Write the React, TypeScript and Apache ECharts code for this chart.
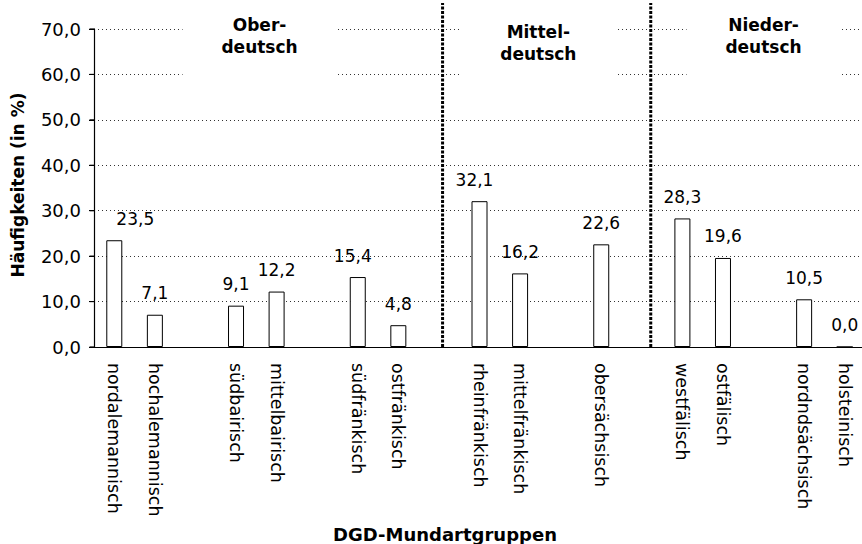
import React, { useEffect, useRef } from 'react';
import * as echarts from 'echarts';

// ---- data ----
const categories = [
  'nordalemannisch', 'hochalemannisch', '_gap1',
  'südbairisch', 'mittelbairisch', '_gap2',
  'südfränkisch', 'ostfränkisch', '_gap3',
  'rheinfränkisch', 'mittelfränkisch', '_gap4',
  'obersächsisch', '_gap5',
  'westfälisch', 'ostfälisch', '_gap6',
  'nordndsächsisch', 'holsteinisch',
];
const values: (number | null)[] = [
  23.5, 7.1, null,
  9.1, 12.2, null,
  15.4, 4.8, null,
  32.1, 16.2, null,
  22.6, null,
  28.3, 19.6, null,
  10.5, 0.0,
];
const yMin = 0;
const yMax = 70;
const yInterval = 10;
const yTickValues = [0, 10, 20, 30, 40, 50, 60, 70];

const groupLabels = ['Ober-\ndeutsch', 'Mittel-\ndeutsch', 'Nieder-\ndeutsch'];
// group label centres / divider lines, in category-slot units
const groupCenters = [3.58, 10.45, 16.0];
const dividerPositions = [8.09, 13.22];

const xTitle = 'DGD-Mundartgruppen';
const yTitle = 'Häufigkeiten (in %)';

const FONT = '"DejaVu Sans", "Liberation Sans", sans-serif';
const fmt = (v: number) => v.toFixed(1).replace('.', ',');

// split a fractional slot position into [category index, fraction]
const split = (p: number) => [Math.floor(p), p - Math.floor(p)];

export default function App() {
  const ref = useRef<HTMLDivElement>(null);

  useEffect(() => {
    if (!ref.current) return;
    const chart = echarts.init(ref.current, null, { renderer: 'svg' });

    const labelOffsets: Record<number, [number, number]> = {
      0: [21, 0],
      6: [-5, 0],
      9: [-5, 0],
    };
    const groupDy = [7, 13.5, 7];

    const barData = values.map((v, i) =>
      v === null
        ? '-'
        : labelOffsets[i]
        ? { value: v, label: { offset: labelOffsets[i] } }
        : v
    );

    const slotX = (api: any, y: number) => {
      const idx = api.value(0);
      const frac = api.value(2);
      const p = api.coord([idx, y]);
      const band = api.size([1, 0])[0];
      return [p[0] + frac * band, p[1]];
    };

    chart.setOption({
      animation: false,
      backgroundColor: '#ffffff',
      grid: { left: 94, right: 0, top: 29, bottom: 197, containLabel: false },
      xAxis: {
        type: 'category',
        data: categories,
        axisLine: { show: true, onZero: false, lineStyle: { color: '#000', width: 1 } },
        axisTick: { show: false },
        splitLine: { show: false },
        axisLabel: {
          interval: 0,
          rotate: -90,
          margin: 16,
          fontFamily: FONT,
          fontSize: 17.5,
          color: '#000',
          formatter: (v: string) => (v.startsWith('_') ? '' : v),
        },
      },
      yAxis: {
        type: 'value',
        min: yMin,
        max: yMax,
        interval: yInterval,
        axisLine: { show: true, onZero: false, lineStyle: { color: '#000', width: 1 } },
        axisTick: { show: true, inside: false, length: 5, lineStyle: { color: '#000' } },
        axisLabel: {
          margin: 13,
          fontFamily: FONT,
          fontSize: 18,
          color: '#000',
          formatter: (v: number) => fmt(v),
        },
        splitLine: {
          show: true,
          lineStyle: { color: '#333', width: 1, type: [1, 3] },
        },
      },
      series: [
        {
          type: 'bar',
          data: barData,
          barWidth: 16,
          itemStyle: { color: '#ffffff', borderColor: '#000', borderWidth: 1 },
          label: {
            show: true,
            position: 'top',
            distance: 13,
            fontFamily: FONT,
            fontSize: 17,
            color: '#000',
            formatter: (p: any) => fmt(Number(p.value)),
          },
          z: 3,
        },
        {
          type: 'custom',
          clip: false,
          z: 4,
          silent: true,
          data: dividerPositions.map((x) => [split(x)[0], yMin, split(x)[1]]),
          encode: { x: 0, y: 1 },
          renderItem: (params: any, api: any) => {
            const bottom = slotX(api, yMin);
            const top = slotX(api, yMax);
            return {
              type: 'line',
              shape: { x1: bottom[0], y1: bottom[1], x2: top[0], y2: top[1] - 26 },
              style: { stroke: '#000', lineWidth: 3, lineDash: [3, 1.5] },
            };
          },
        },
        {
          type: 'custom',
          clip: false,
          z: 4,
          silent: true,
          data: groupCenters.map((x) => [split(x)[0], yMax, split(x)[1]]),
          encode: { x: 0, y: 1 },
          renderItem: (params: any, api: any) => {
            const idx = params.dataIndex;
            const p = slotX(api, yMax);
            return {
              type: 'group',
              children: [
                {
                  type: 'rect',
                  shape: { x: p[0] - 77, y: p[1] - 14, width: 154, height: 66 },
                  style: { fill: '#ffffff' },
                },
                {
                  type: 'text',
                  style: {
                    text: groupLabels[idx],
                    x: p[0],
                    y: p[1] + groupDy[idx],
                    align: 'center',
                    verticalAlign: 'middle',
                    font: `bold 17px ${FONT}`,
                    lineHeight: 22,
                    fill: '#000',
                  },
                },
              ],
            };
          },
        },
      ],
    });

    // y axis line and outward ticks, placed through the chart's own scales
    const p0 = chart.convertToPixel({ gridIndex: 0 }, [0, yMin]) as number[];
    const p1 = chart.convertToPixel({ gridIndex: 0 }, [1, yMin]) as number[];
    const pTop = chart.convertToPixel({ gridIndex: 0 }, [0, yMax]) as number[];
    const axisX = Math.round(p0[0] - (p1[0] - p0[0]) / 2) + 0.5;

    const axisGraphics: any[] = [
      {
        type: 'line',
        z: 100,
        silent: true,
        shape: { x1: axisX, y1: p0[1], x2: axisX, y2: pTop[1] },
        style: { stroke: '#000', lineWidth: 1.2 },
      },
      ...yTickValues.map((v) => {
        const py = (chart.convertToPixel({ gridIndex: 0 }, [0, v]) as number[])[1];
        return {
          type: 'line',
          z: 100,
          silent: true,
          shape: { x1: axisX - 5, y1: py, x2: axisX, y2: py },
          style: { stroke: '#000', lineWidth: 1.2 },
        };
      }),
    ];

    chart.setOption({
      graphic: [
        ...axisGraphics,
        {
          type: 'text',
          x: 18,
          y: 185,
          rotation: Math.PI / 2,
          style: {
            text: yTitle,
            font: `bold 17px ${FONT}`,
            fill: '#000',
            align: 'center',
            verticalAlign: 'middle',
          },
        },
        {
          type: 'text',
          x: 445,
          y: 534,
          style: {
            text: xTitle,
            font: `bold 18px ${FONT}`,
            fill: '#000',
            align: 'center',
            verticalAlign: 'middle',
          },
        },
      ],
    });

    return () => chart.dispose();
  }, []);

  return (
    <div style={{ position: 'absolute', left: 0, top: 0, width: 862, height: 544, overflow: 'hidden', background: '#fff' }}>
      <div ref={ref} style={{ width: 865, height: 544 }} />
    </div>
  );
}
